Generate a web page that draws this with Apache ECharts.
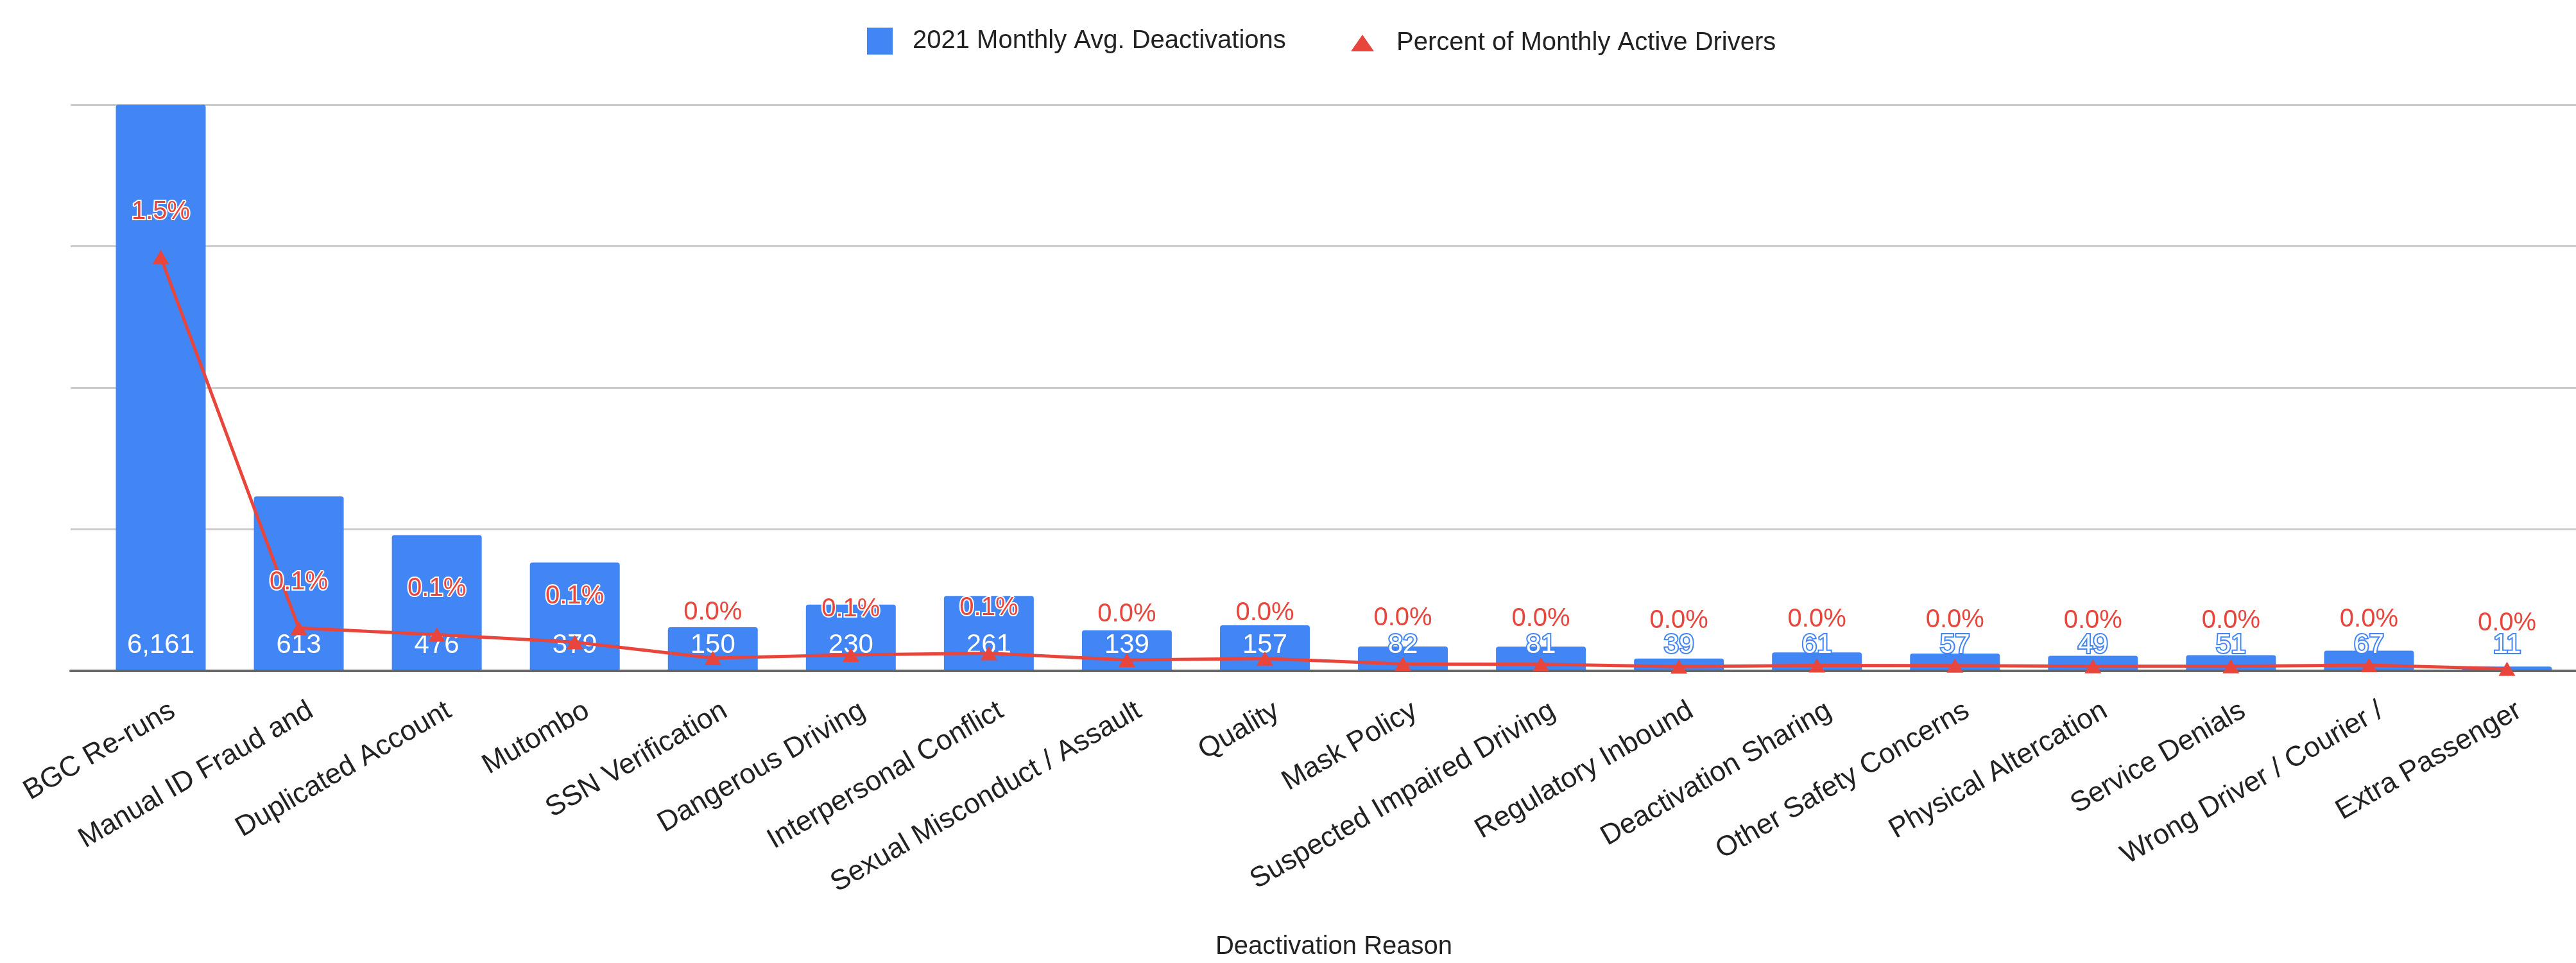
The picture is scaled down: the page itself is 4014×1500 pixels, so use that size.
<!DOCTYPE html>
<html>
<head>
<meta charset="utf-8">
<title>Deactivation Reasons</title>
<script src="https://cdn.jsdelivr.net/npm/echarts@6/dist/echarts.min.js"></script>
<style>
  html, body { margin: 0; padding: 0; background: #fff; }
  #chart { width: 4014px; height: 1500px; }
</style>
</head>
<body>
<div id="chart"></div>
<script>
const reasons = [
  'BGC Re-runs', 'Manual ID Fraud and', 'Duplicated Account', 'Mutombo',
  'SSN Verification', 'Dangerous Driving', 'Interpersonal Conflict',
  'Sexual Misconduct / Assault', 'Quality', 'Mask Policy',
  'Suspected Impaired Driving', 'Regulatory Inbound', 'Deactivation Sharing',
  'Other Safety Concerns', 'Physical Altercation', 'Service Denials',
  'Wrong Driver / Courier /', 'Extra Passenger'
]
const monthlyDeactivations = [6161, 613, 476, 379, 150, 230, 261, 139, 157, 82, 81, 39, 61, 57, 49, 51, 67, 11]
const percentActive = [1.46, 0.147, 0.124, 0.097, 0.041, 0.052, 0.058, 0.034, 0.039, 0.02, 0.019, 0.011, 0.015, 0.014, 0.012, 0.012, 0.016, 0.003]

const BLUE = '#4285f4'
const RED = '#e8453c'
const FONT = 'Arial, "Liberation Sans", sans-serif'

const chart = echarts.init(document.getElementById('chart'))

const hiddenValueAxis = {
  type: 'value',
  axisLabel: { show: false },
  axisLine: { show: false },
  axisTick: { show: false },
  splitLine: { show: false }
}

const option = {
  animation: false,
  textStyle: { fontFamily: FONT },
  legend: [
    {
      data: [{ name: '2021 Monthly Avg. Deactivations', icon: 'rect' }],
      left: 1346,
      top: 38,
      itemWidth: 40,
      itemHeight: 42,
      textStyle: { fontSize: 40, color: '#222', padding: [0, 0, 0, 26] }
    },
    {
      data: [{ name: 'Percent of Monthly Active Drivers', icon: 'triangle' }],
      left: 2100,
      top: 42,
      itemWidth: 36,
      itemHeight: 26,
      textStyle: { fontSize: 40, color: '#222', padding: [0, 0, 0, 30] }
    }
  ],
  grid: [
    // data area
    { left: 143, right: 0, top: 163, bottom: 455 },
    // gridlines reach a bit further left than the first band
    { left: 110, right: 0, top: 163, bottom: 455 }
  ],
  xAxis: [
    {
      type: 'category',
      gridIndex: 0,
      data: reasons,
      name: 'Deactivation Reason',
      nameLocation: 'middle',
      nameGap: 412,
      nameTextStyle: { fontSize: 40, color: '#222' },
      axisLine: { show: false },
      axisTick: { show: false },
      axisLabel: {
        rotate: 30,
        interval: 0,
        fontSize: 44,
        color: '#222',
        margin: 72,
        padding: [0, -22, 0, 0]
      }
    },
    {
      type: 'category',
      gridIndex: 1,
      data: reasons,
      axisLine: { lineStyle: { color: '#666', width: 4 } },
      axisTick: { show: false },
      axisLabel: { show: false }
    }
  ],
  yAxis: [
    Object.assign({}, hiddenValueAxis, { gridIndex: 0, min: 0, max: 2000, interval: 500 }),
    Object.assign({}, hiddenValueAxis, { gridIndex: 0, min: 0, max: 2, interval: 0.5 }),
    {
      type: 'value',
      gridIndex: 1,
      min: 0,
      max: 2000,
      interval: 500,
      axisLabel: { show: false },
      axisLine: { show: false },
      axisTick: { show: false },
      splitLine: { lineStyle: { color: '#cccccc', width: 3 } }
    }
  ],
  series: [
    {
      name: '2021 Monthly Avg. Deactivations',
      type: 'bar',
      xAxisIndex: 0,
      yAxisIndex: 0,
      data: monthlyDeactivations,
      barWidth: 140,
      itemStyle: { color: BLUE, borderRadius: [4, 4, 0, 0] },
      label: {
        show: true,
        position: 'insideBottom',
        distance: 17,
        fontSize: 42,
        color: '#fff',
        textBorderColor: BLUE,
        textBorderWidth: 4,
        formatter: p => p.value.toLocaleString('en-US')
      },
      z: 2
    },
    {
      name: 'Percent of Monthly Active Drivers',
      type: 'line',
      xAxisIndex: 0,
      yAxisIndex: 1,
      data: percentActive,
      symbol: 'triangle',
      symbolSize: [26, 22],
      itemStyle: { color: RED },
      lineStyle: { color: RED, width: 5 },
      label: {
        show: true,
        position: 'top',
        distance: 40,
        fontSize: 40,
        color: RED,
        textBorderColor: '#fff',
        textBorderWidth: 4,
        formatter: p => p.value.toFixed(1) + '%'
      },
      z: 3
    }
  ]
}

chart.setOption(option)
window.addEventListener('resize', () => chart.resize())
</script>
</body>
</html>
